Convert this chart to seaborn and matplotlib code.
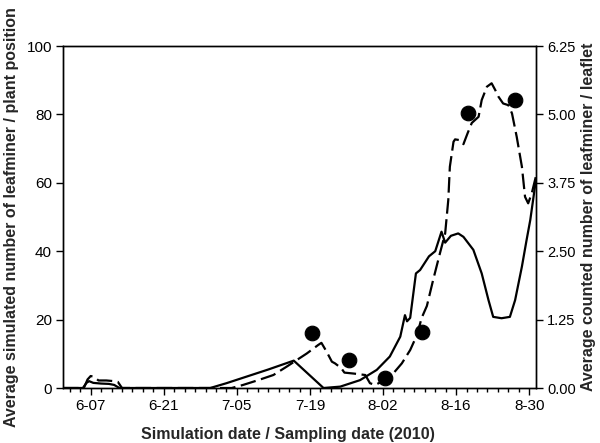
import matplotlib
matplotlib.use("Agg")
import matplotlib.pyplot as plt
from matplotlib.ticker import MultipleLocator, FixedLocator
import seaborn as sns

sns.set_theme(style="ticks")
plt.rcParams["font.family"] = ["Liberation Sans", "DejaVu Sans"]

# days counted from 6-07 (2010)
solid_days = [-5.3, -1.5, -0.8, -0.3, 0.5, 2, 3.5, 4.5, 5.5, 22.9, 26, 30, 34, 38.9, 44.6,
              47.8, 51.6, 54.8, 57.3, 59.3, 60.2, 60.6, 61.2, 62.3, 63.1, 64.8, 66.0, 67.2,
              67.9, 69.0, 70.4, 71.4, 73.3, 74.9, 76.2, 77.1, 78.7, 80.3, 81.3, 82.6, 83.5,
              84.2, 85.3]
solid_vals = [0, 0, 1.5, 2.0, 1.5, 1.3, 1.2, 0.9, 0, 0, 1.4, 3.4, 5.4, 8.0, 0,
              0.4, 2.3, 5.3, 9.2, 15, 21.3, 19.5, 20.5, 33.5, 34.5, 38.5, 40, 45.7,
              42.5, 44.5, 45.2, 44.2, 40.4, 33.5, 25.7, 20.8, 20.4, 20.8, 25.7, 35.5, 43.3,
              49.1, 61]

dashed_days = [-5.3, -1.3, -0.6, 0, 0.6, 1.5, 3, 4.5, 5.2, 6, 27, 28, 29.2, 32.1, 35, 37.5,
               39.5, 41.4, 43.6, 44.2, 45.2, 46.2, 46.8, 48, 48.6, 50.5, 52.6, 53.5, 54.5,
               56.2, 57.7, 59.6, 61.2, 62.5, 63.4, 64.4, 65.6, 66.9, 67.9, 68.5, 68.8, 69.5,
               69.8, 70.6, 71.4, 72.2, 73.0, 74.3, 74.9, 75.9, 76.8, 77.5, 78.1, 79, 80,
               80.7, 81.6, 82.6, 83.2, 83.8, 84.5, 85.3]
dashed_vals = [0, 0, 2.5, 3.5, 3.3, 2.2, 2.2, 2.0, 1.8, 0, 0, 0.4, 0.9, 2.3, 3.8, 6.2,
               8.2, 10.1, 12.6, 13.2, 10.6, 7.7, 7.2, 5.8, 4.5, 4.2, 3.8, 1.4, 0.9,
               2.2, 3.8, 7.2, 11.1, 15.5, 20.5, 24, 31.6, 39.4, 45.2, 55, 64.7, 72,
               72.7, 72.5, 71.3, 74.5, 77.5, 79.3, 84.2, 88.1, 89.1, 87.1, 85.2, 83.2, 82.7,
               80.3, 73.5, 64.7, 55.9, 54, 57, 62]

obs_days = [42.3, 49.4, 56.4, 63.4, 72.3, 81.3]
obs_vals = [1.0, 0.51, 0.18, 1.03, 5.02, 5.26]

tick_days = [0, 14, 28, 42, 56, 70, 84]
tick_labels = ["6-07", "6-21", "7-05", "7-19", "8-02", "8-16", "8-30"]

fig, ax = plt.subplots(figsize=(6, 4.43), dpi=100)
fig.subplots_adjust(left=63/600, right=536/600, bottom=1-388/443, top=1-46/443)

sns.lineplot(x=solid_days, y=solid_vals, ax=ax, color="black", lw=1.6)
sns.lineplot(x=dashed_days, y=dashed_vals, ax=ax, color="black", lw=1.6,
             linestyle=(0, (7, 2.5)))

ax.set_xlim(-5.3, 85.3)
ax.set_ylim(0, 100)
ax.xaxis.set_major_locator(FixedLocator(tick_days))
ax.set_xticklabels(tick_labels)
ax.xaxis.set_minor_locator(MultipleLocator(2))
ax.set_yticks([0, 20, 40, 60, 80, 100])
ax.tick_params(axis="both", which="major", direction="out", length=5, width=1,
               color="black", labelsize=11, labelcolor="black", pad=3)
ax.tick_params(axis="x", which="minor", direction="out", length=3, width=1, color="black")
ax.set_xlabel("Simulation date / Sampling date (2010)", fontsize=11.5,
              fontweight="bold", labelpad=9)
ax.xaxis.set_label_coords(0.476, -0.115)
ax.set_ylabel("Average simulated number of leafminer / plant position", fontsize=11.5,
              fontweight="bold", labelpad=5)

ax2 = ax.twinx()
sns.scatterplot(x=obs_days, y=obs_vals, ax=ax2, color="black", s=110,
                edgecolor="black", zorder=3)
ax2.set_ylim(0, 6.25)
ax2.set_yticks([0, 1.25, 2.5, 3.75, 5.0, 6.25])
ax2.set_yticklabels(["0.00", "1.25", "2.50", "3.75", "5.00", "6.25"])
ax2.tick_params(axis="y", direction="out", length=5, width=1, color="black",
                labelsize=10.5, labelcolor="black", pad=3)
ax2.set_ylabel("Average counted number of leafminer / leaflet", fontsize=11.5,
               fontweight="bold", labelpad=4)

for a in (ax, ax2):
    for s in a.spines.values():
        s.set_color("black")
        s.set_linewidth(1)

plt.savefig("out.png", dpi=100)
